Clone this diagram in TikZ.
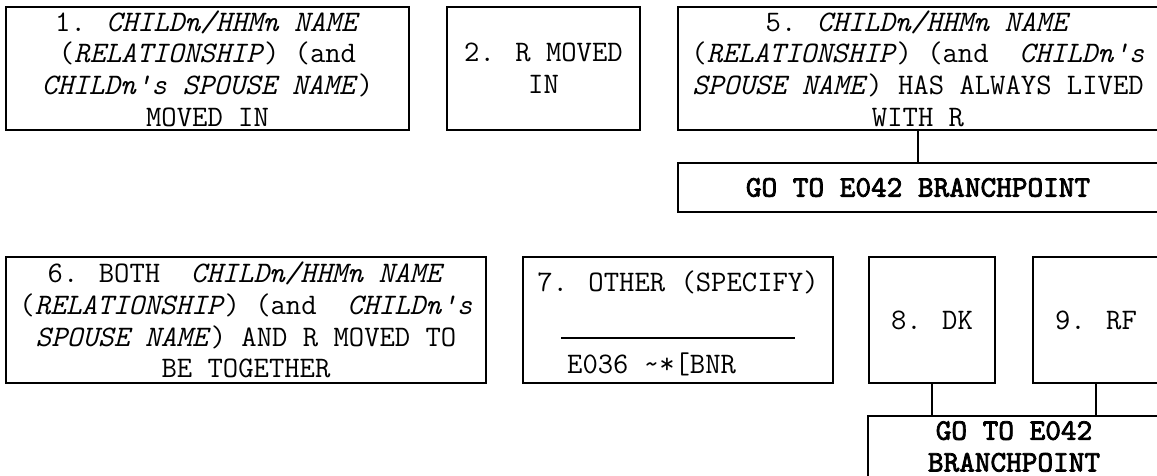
\documentclass[tikz,border=0pt]{standalone}
\usepackage{fontspec}
\newfontfamily\gofont{lmmono10-regular.otf}[FakeBold=2.6]
\begin{document}
\begin{tikzpicture}[x=1pt,y=-1pt,
  box/.style={draw, line width=1.6pt, inner sep=0pt, align=center,
    font=\ttfamily\fontsize{29.8}{31.7}\selectfont},
  gobox/.style={box, font=\gofont\fontsize{29.8}{31.7}\selectfont},
  txt/.style={inner sep=0pt, font=\ttfamily\fontsize{29.8}{31.7}\selectfont},
  conn/.style={draw, line width=1.6pt}]
\useasboundingbox (0,0) rectangle (1157,476);
\clip (0,0) rectangle (1157,476);
% row 1
\node[box, minimum width=403pt, minimum height=123pt] (b1) at (207.5,68.5)
  {1. \textit{CHILDn/HHMn NAME}\\(\textit{RELATIONSHIP}) (and\\\textit{CHILDn's SPOUSE NAME})\\MOVED IN};
\node[box, minimum width=193pt, minimum height=123pt] (b2) at (543.5,68.5)
  {2. R MOVED\\IN};
\node[box, minimum width=480pt, minimum height=123pt] (b5) at (918,68.5)
  {5. \textit{CHILDn/HHMn NAME}\\(\textit{RELATIONSHIP}) (and\ \ \textit{CHILDn's}\\\textit{SPOUSE NAME}) HAS ALWAYS LIVED\\WITH R};
\node[gobox, minimum width=480pt, minimum height=49pt] (go1) at (918,187.5)
  {GO TO E042 BRANCHPOINT};
\draw[conn] (b5) -- (go1);
% row 2
\node[box, minimum width=480pt, minimum height=126pt] (b6) at (246,320)
  {6. BOTH\ \ \textit{CHILDn/HHMn NAME}\\(\textit{RELATIONSHIP}) (and\ \ \textit{CHILDn's}\\\textit{SPOUSE NAME}) AND R MOVED TO\\BE TOGETHER};
\node[box, minimum width=310pt, minimum height=126pt] (b7) at (678,320) {};
\node[txt] (t7a) at (678,282) {7. OTHER (SPECIFY)};
\draw[line width=1.6pt] (561,338) -- (795,338);
\node[txt, anchor=west] (t7b) at (567,364) {E036 \textasciitilde*[BNR};
\node[box, minimum width=126pt, minimum height=126pt] (b8) at (932,320) {8. DK};
\node[box, minimum width=126pt, minimum height=126pt] (b9) at (1096,320) {9. RF};
\node[gobox, draw=none, minimum width=290pt, minimum height=59pt] (go2) at (1014,446.5)
  {GO TO E042\\BRANCHPOINT};
\draw[conn] ([yshift=-1pt]go2.south west) -- (go2.north west) -- (go2.north east) -- ([yshift=-1pt]go2.south east);
\draw[conn] (b8.south) -- (b8.south |- go2.north);
\draw[conn] (b9.south) -- (b9.south |- go2.north);
\end{tikzpicture}
\end{document}
